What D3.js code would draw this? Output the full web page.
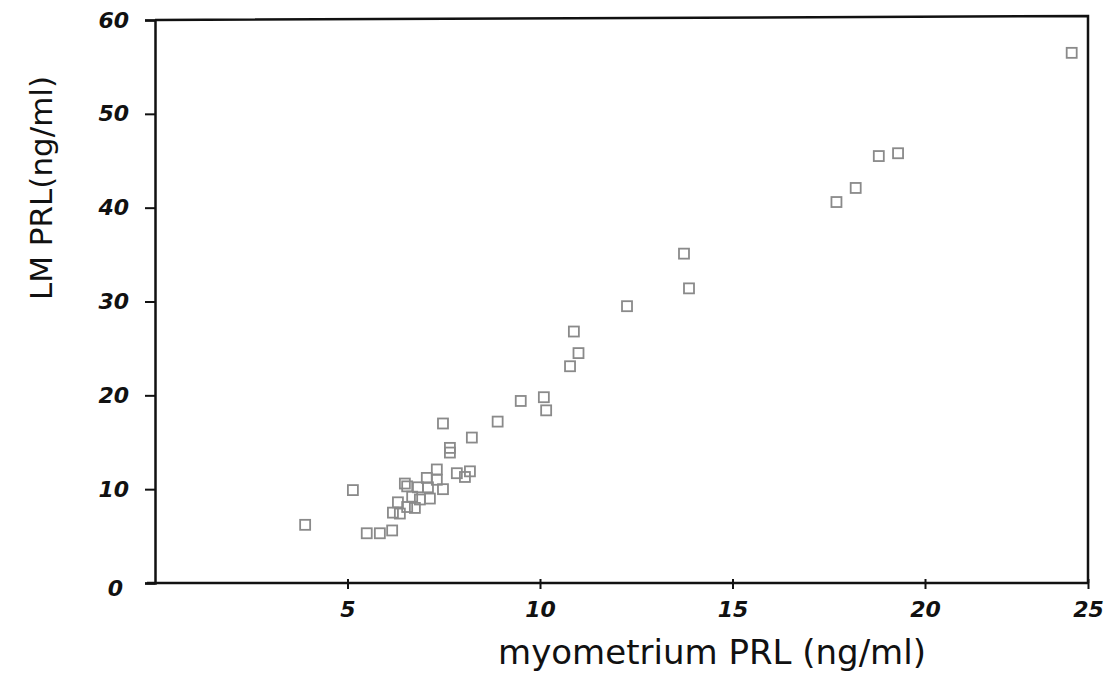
<!DOCTYPE html>
<html>
<head>
<meta charset="utf-8">
<script src="https://cdn.jsdelivr.net/npm/d3@7"></script>
<style>
  html, body { margin: 0; padding: 0; background: #fff; }
  svg { display: block; }
  .tick text { font-family: "DejaVu Sans", sans-serif; font-style: italic; fill: #111; }
</style>
</head>
<body>
<svg id="chart" width="1109" height="674"></svg>
<script>
// ─── data ─────────────────────────────────────
const myometrium = [
  3.9, 5.14, 5.5, 5.84, 6.16, 6.18, 6.36, 6.31, 6.55, 6.75,
  6.68, 6.88, 7.14, 6.49, 6.55, 6.83, 7.09, 7.48, 7.06, 7.32,
  7.32, 7.84, 8.05, 8.18, 7.66, 7.66, 7.48, 8.23, 8.9, 9.5,
  10.1, 10.16, 10.78, 11.0, 10.88, 12.26, 13.74, 13.87, 17.7, 18.2,
  18.8, 19.3, 24.5
];
const lmPrl = [
  6.2, 9.9, 5.3, 5.3, 5.6, 7.5, 7.4, 8.6, 8.1, 8.0,
  9.2, 8.9, 9.0, 10.6, 10.3, 10.2, 10.2, 10.0, 11.2, 11.0,
  12.1, 11.7, 11.3, 11.9, 13.9, 14.4, 17.0, 15.5, 17.2, 19.4,
  19.8, 18.4, 23.1, 24.5, 26.8, 29.5, 35.1, 31.4, 40.6, 42.1,
  45.5, 45.8, 56.5
];
const xTicks = [5, 10, 15, 20, 25];
const yTicks = [0, 10, 20, 30, 40, 50, 60];

const svg = d3.select("#chart");
const plotL = 155, plotR = 1088, plotT = 20, plotB = 583;

// hand-drawn axis: the last interval (20–25) is squeezed
const x = d3.scaleLinear().domain([0, 20, 25]).range([plotL, 925, plotR]);
const y = d3.scaleLinear().domain([0, 60]).range([plotB, plotT]);

svg.append("rect").attr("width", 1109).attr("height", 674).attr("fill", "#fff");

// frame
svg.append("path")
  .attr("d", `M${plotL},${plotT}L${plotR},${plotT - 4}L${plotR},${plotB}`)
  .attr("fill", "none").attr("stroke", "#111").attr("stroke-width", 2.5);

// y axis
const yAxis = svg.append("g")
  .attr("transform", `translate(${plotL},0)`)
  .call(d3.axisLeft(y).tickValues(yTicks).tickSize(10).tickPadding(16));
yAxis.select(".domain").attr("stroke", "#111").attr("stroke-width", 2.5);
yAxis.selectAll(".tick line").attr("stroke", "#111").attr("stroke-width", 2);
yAxis.selectAll(".tick text").attr("font-size", 22).attr("font-weight", 600)
  .attr("dy", d => d === 0 ? "0.55em" : "0.32em")
  .attr("dx", d => d === 0 ? "-6" : null);

// x axis
const xAxis = svg.append("g")
  .attr("transform", `translate(0,${plotB})`)
  .call(d3.axisBottom(x).tickValues(xTicks).tickSize(6).tickPadding(12));
xAxis.select(".domain").attr("stroke", "#111").attr("stroke-width", 2.5)
  .attr("d", `M${plotL - 8},0H${plotR}`);
xAxis.selectAll(".tick line").attr("stroke", "#111").attr("stroke-width", 2)
  .attr("y1", -4);
xAxis.selectAll(".tick text").attr("font-size", 22).attr("font-weight", 600);

// squares
const s = 10;
svg.append("g").selectAll("rect")
  .data(myometrium.map((v, i) => [v, lmPrl[i]]))
  .join("rect")
    .attr("x", d => x(d[0]) - s / 2)
    .attr("y", d => y(d[1]) - s / 2)
    .attr("width", s).attr("height", s)
    .attr("fill", "none")
    .attr("stroke", "#8a8a8a")
    .attr("stroke-width", 1.8);

// axis titles
svg.append("text")
  .attr("transform", "translate(52,188) rotate(-90)")
  .attr("text-anchor", "middle")
  .attr("font-family", "DejaVu Sans, sans-serif")
  .attr("font-size", 31)
  .attr("fill", "#111")
  .text("LM PRL(ng/ml)");

svg.append("text")
  .attr("x", 712).attr("y", 664)
  .attr("text-anchor", "middle")
  .attr("font-family", "DejaVu Sans, sans-serif")
  .attr("font-size", 34)
  .attr("fill", "#111")
  .text("myometrium PRL (ng/ml)");
</script>
</body>
</html>
